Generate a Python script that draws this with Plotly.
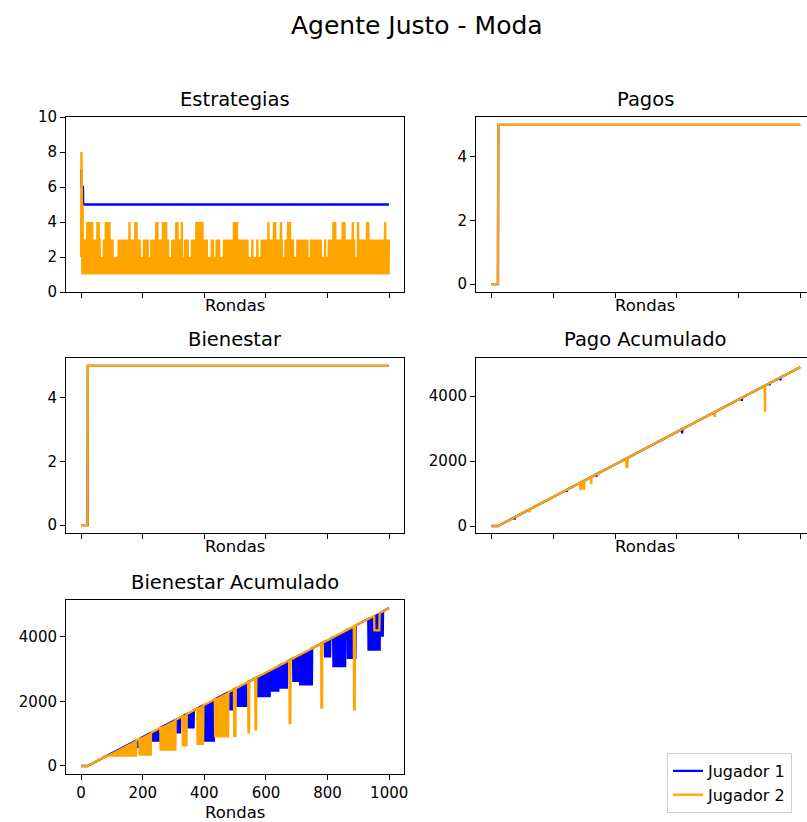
import numpy as np
import plotly.graph_objects as go

W, H = 807, 822
FONT = "DejaVu Sans"

PLAYERS = ["Jugador 1", "Jugador 2"]
COLORS = ["blue", "orange"]
ROUND_TICKS = [0, 200, 400, 600, 800, 1000]

# ---- Estrategias ---------------------------------------------------------
# Jugador 1: (value, number of rounds)
STRATEGY_P1_RUNS = [(7, 1), (6, 6), (5, 993)]
# Jugador 2: one digit per round
STRATEGY_P2_DIGITS = [
    "2875151312", "1312131213", "4141413141", "4141314121", "3121312131",
    "3124141413", "3121212121", "2121312131", "4141414131", "4141312131",
    "2131212121", "2121212121", "2131213121", "3121312131", "2131213121",
    "3121312412", "1312131213", "1213124141", "4131213121", "3121212121",
    "2121312131", "2131213121", "2121212131", "2131213121", "3121414141",
    "3121312131", "2131214141", "4141414131", "2131212121", "2121213121",
    "3121312134", "1414131213", "1213121412", "1212121231", "2131213121",
    "2121212121", "3121312131", "2131414141", "4141414141", "4141413121",
    "3121312131", "2121212121", "2121312131", "2121212121", "3121312131",
    "2121212121", "2121312131", "2131213121", "3121312131", "2131214141",
    "4141414131", "2131213121", "3121312131", "2131213121", "3121212121",
    "2121213121", "2121212121", "2131212121", "2121213121", "3121312131",
    "2131213141", "3121312131", "2131214141", "4131213121", "3121312134",
    "1312121212", "1213121312", "1341213141", "3121312131", "2121212121",
    "2131213121", "3121312131", "2131213121", "3121312121", "2121213121",
    "3121312131", "2131213121", "3121312131", "2121212121", "2131212121",
    "2121312131", "2131213124", "1312141213", "1213121312", "1312131214",
    "1414141312", "1312131213", "1213121312", "1341213121", "2121212124",
    "1312131213", "1213121312", "1312131241", "4141312131", "2131213121",
    "3121312131", "2131213121", "3121312131", "2131213412", "1312131213",
]

# ---- Pagos / Bienestar (both players): (value, number of rounds) -----------
PAYOFF_RUNS = [(0, 22), (5, 978)]
WELFARE_RUNS = [(0, 22), (5, 978)]

# ---- Pago Acumulado: single-round drops (round, value) ---------------------
PAYOFF_CUM_DIPS_P1 = [(75, 200), (243, 1050), (340, 1520), (617, 2850),
                      (722, 3420), (810, 3850), (900, 4330), (935, 4480)]
PAYOFF_CUM_DIPS_P2 = [(123, 420), (288, 1100), (291, 1120), (300, 1110),
                      (323, 1290), (346, 1560), (437, 1780), (440, 1800),
                      (723, 3360), (885, 3520)]

# ---- Bienestar Acumulado: bands of repeated drops (first, last, low) -------
WELFARE_CUM_BANDS_P1 = [(180, 192, 550), (229, 256, 750), (311, 321, 1005),
                        (345, 365, 1160), (397, 432, 750), (478, 495, 1720),
                        (505, 540, 1830), (570, 614, 2130), (614, 640, 2300),
                        (646, 668, 2390), (689, 711, 2600), (711, 749, 2490),
                        (792, 808, 3360), (819, 857, 3060), (866, 890, 3310),
                        (933, 971, 3570), (971, 980, 4000)]
WELFARE_CUM_BANDS_P2 = [(72, 178, 290), (190, 226, 320), (258, 306, 470),
                        (330, 343, 600), (378, 396, 650), (435, 478, 880),
                        (497, 501, 900), (543, 545, 1005), (566, 568, 1100),
                        (677, 679, 1290), (780, 782, 1770), (886, 888, 1720)]
# stretch held at a lower level (first, last, value)
WELFARE_CUM_FLAT_P2 = [(952, 968, 4200)]


def from_runs(runs):
    return np.repeat([v for v, _ in runs], [n for _, n in runs]).astype(float)


def with_dips(base, dips):
    y = base.copy()
    for r, v in dips:
        y[r] = v
    return y


def with_bands(base, bands, flats=()):
    y = base.copy()
    for a, b, low in bands:
        y[a:b + 1:2] = low
    for a, b, low in flats:
        y[a:b + 1] = low
    return y


strat_p1 = from_runs(STRATEGY_P1_RUNS)
strat_p2 = np.array([int(c) for c in "".join(STRATEGY_P2_DIGITS)], dtype=float)
payoff = from_runs(PAYOFF_RUNS)
welfare = from_runs(WELFARE_RUNS)
payoff_cum = np.cumsum(payoff)
welfare_cum = np.cumsum(welfare)

SERIES = [
    [strat_p1, strat_p2],
    [payoff, payoff],
    [welfare, welfare],
    [with_dips(payoff_cum, PAYOFF_CUM_DIPS_P1), with_dips(payoff_cum, PAYOFF_CUM_DIPS_P2)],
    [with_bands(welfare_cum, WELFARE_CUM_BANDS_P1),
     with_bands(welfare_cum, WELFARE_CUM_BANDS_P2, WELFARE_CUM_FLAT_P2)],
]

PANELS = [
    dict(title="Estrategias", col=0, row=0, yrange=[0, 10], yticks=[0, 2, 4, 6, 8, 10]),
    dict(title="Pagos", col=1, row=0, yrange=[-0.25, 5.25], yticks=[0, 2, 4]),
    dict(title="Bienestar", col=0, row=1, yrange=[-0.25, 5.25], yticks=[0, 2, 4]),
    dict(title="Pago Acumulado", col=1, row=1, yrange=[-215, 5170], yticks=[0, 2000, 4000]),
    dict(title="Bienestar Acumulado", col=0, row=2, yrange=[-248, 5140], yticks=[0, 2000, 4000]),
]

# axes frames in pixels
COL_X = [(66, 404), (476, 807)]
ROW_Y = [(117, 292), (358, 533), (600, 774)]
X_RANGES = [[-49, 1048], [-50, 1021]]


def px_x(x):
    return x / W


def px_y(y):
    return 1 - y / H


fig = go.Figure()
annotations = []
layout_axes = {}

for i, (panel, series) in enumerate(zip(PANELS, SERIES)):
    k = i + 1
    xa, ya = f"x{k}", f"y{k}"
    x0, x1 = COL_X[panel["col"]]
    y0, y1 = ROW_Y[panel["row"]]
    bottom = panel["row"] == 2
    for p, ys in enumerate(series):
        fig.add_trace(go.Scatter(
            x=np.arange(len(ys)), y=ys, mode="lines", name=PLAYERS[p],
            line=dict(color=COLORS[p], width=2.3, simplify=False),
            xaxis=xa, yaxis=ya, showlegend=(i == 0), hoverinfo="skip"))
    common = dict(showgrid=False, zeroline=False, showline=True, linecolor="black",
                  linewidth=1, ticks="outside", ticklen=5, tickwidth=1,
                  tickcolor="black", automargin=False,
                  tickfont=dict(family=FONT, size=15, color="black"))
    layout_axes[f"xaxis{k}"] = dict(
        common, domain=[px_x(x0), px_x(x1)], range=X_RANGES[panel["col"]],
        tickvals=ROUND_TICKS, showticklabels=bottom, anchor=ya, mirror=True)
    layout_axes[f"yaxis{k}"] = dict(
        common, domain=[px_y(y1), px_y(y0)], range=panel["yrange"],
        tickvals=panel["yticks"], anchor=xa, mirror=(panel["col"] == 0))
    cx = (x0 + 338 / 2) if panel["col"] == 1 else (x0 + x1) / 2
    annotations.append(dict(
        text=panel["title"], x=px_x(cx), y=px_y(y0 - 18), xref="paper", yref="paper",
        showarrow=False, xanchor="center", yanchor="middle",
        font=dict(family=FONT, size=19.5, color="black")))
    annotations.append(dict(
        text="Rondas", x=px_x(cx), y=px_y(y1 + (38 if bottom else 13)),
        xref="paper", yref="paper", showarrow=False, xanchor="center", yanchor="middle",
        font=dict(family=FONT, size=16.5, color="black")))

annotations.append(dict(
    text="Agente Justo - Moda", x=px_x(417), y=px_y(25), xref="paper", yref="paper",
    showarrow=False, xanchor="center", yanchor="middle",
    font=dict(family=FONT, size=25, color="black")))

fig.update_layout(
    width=W, height=H, margin=dict(l=0, r=0, t=0, b=0),
    paper_bgcolor="white", plot_bgcolor="white",
    annotations=annotations,
    legend=dict(x=px_x(667), y=px_y(753), xanchor="left", yanchor="top",
                bgcolor="white", bordercolor="#d0d0d0", borderwidth=1,
                font=dict(family=FONT, size=16, color="black"),
                tracegroupgap=0),
    **layout_axes,
)

fig.write_html("out.html")
